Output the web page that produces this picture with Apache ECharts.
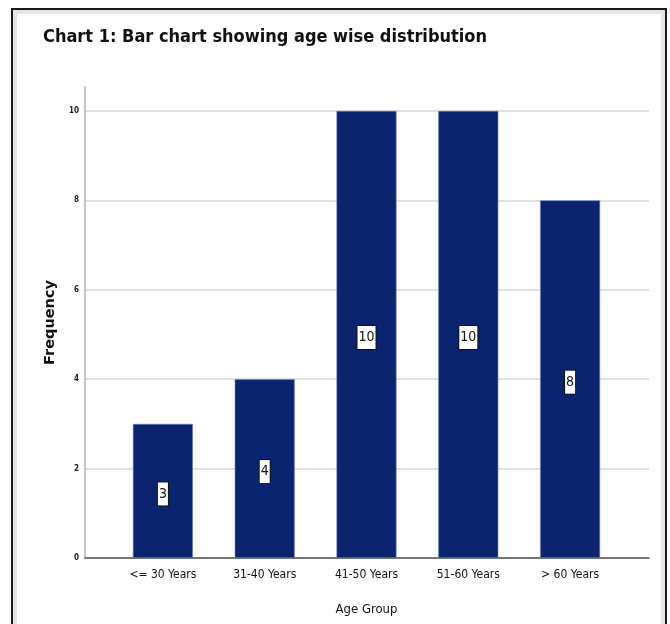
<!DOCTYPE html>
<html>
<head>
<meta charset="utf-8">
<script src="https://cdn.jsdelivr.net/npm/echarts@6/dist/echarts.min.js"></script>
<style>
  html, body { margin: 0; padding: 0; background: #fff; }
  #chart { width: 670px; height: 624px; }
</style>
</head>
<body>
<div id="chart"></div>
<script>
const categories = ['<= 30 Years', '31-40 Years', '41-50 Years', '51-60 Years', '> 60 Years']
const frequency = [3, 4, 10, 10, 8]
const yTicks = [0, 2, 4, 6, 8, 10]

const narrow = '"Liberation Sans Narrow", "DejaVu Sans Condensed", "Arial Narrow", sans-serif'
const barColor = '#0b2470'

const chart = echarts.init(document.getElementById('chart'))

chart.setOption({
  backgroundColor: '#fff',
  animation: false,
  title: {
    text: 'Chart 1: Bar chart showing age wise distribution',
    left: 38,
    top: 23,
    textStyle: { fontFamily: narrow, fontWeight: 'bold', fontSize: 18, color: '#111' }
  },
  graphic: [
    // picture frame with a soft inner shadow
    { type: 'rect', z: -1, shape: { x: 15, y: 12, width: 648, height: 622 },
      style: { fill: 'none', stroke: 'rgba(0,0,0,0.1)', lineWidth: 4 } },
    { type: 'rect', z: -1, shape: { x: 12, y: 9, width: 654, height: 630 },
      style: { fill: 'none', stroke: '#1a1a1a', lineWidth: 2 } }
  ],
  grid: [
    // bars
    { left: 112, right: 49, top: 111, bottom: 66 },
    // gridlines, y labels, x axis line
    { left: 85, right: 21, top: 111, bottom: 66 },
    // y axis line (runs a bit above 10)
    { left: 85, right: 21, top: 87, bottom: 66 }
  ],
  xAxis: [
    {
      gridIndex: 0,
      type: 'category',
      data: categories,
      axisLine: { show: false },
      axisTick: { show: false },
      axisLabel: { margin: 11, fontFamily: narrow, fontSize: 12, color: '#111' },
      name: 'Age Group',
      nameLocation: 'middle',
      nameGap: 45,
      nameTextStyle: { fontFamily: narrow, fontSize: 13, color: '#111' }
    },
    {
      gridIndex: 1,
      type: 'value',
      min: 0,
      max: 1,
      axisLine: { show: true, lineStyle: { color: '#555', width: 1.5 } },
      axisTick: { show: false },
      axisLabel: { show: false },
      splitLine: { show: false }
    },
    {
      gridIndex: 2,
      type: 'value',
      min: 0,
      max: 1,
      axisLine: { show: false },
      axisTick: { show: false },
      axisLabel: { show: false },
      splitLine: { show: false }
    }
  ],
  yAxis: [
    {
      gridIndex: 0,
      type: 'value',
      min: 0,
      max: 10,
      show: false
    },
    {
      gridIndex: 1,
      type: 'value',
      min: yTicks[0],
      max: yTicks[yTicks.length - 1],
      interval: 2,
      axisLine: { show: false },
      axisTick: { show: false },
      axisLabel: { margin: 6, fontFamily: narrow, fontWeight: 'bold', fontSize: 8, color: '#222' },
      splitLine: { lineStyle: { color: '#d4d4d4', width: 1.5 } }
    },
    {
      gridIndex: 2,
      type: 'value',
      min: 0,
      max: 1,
      axisLine: { show: true, lineStyle: { color: '#b0b0b0', width: 1.5 } },
      axisTick: { show: false },
      axisLabel: { show: false },
      splitLine: { show: false },
      name: 'Frequency',
      nameLocation: 'middle',
      nameGap: 27,
      nameTextStyle: { fontFamily: '"DejaVu Sans", sans-serif', fontWeight: 'bold', fontSize: 14.5, color: '#111' }
    }
  ],
  series: [
    {
      type: 'bar',
      xAxisIndex: 0,
      yAxisIndex: 0,
      data: frequency,
      barWidth: 60,
      z: 3,
      itemStyle: { color: barColor, borderColor: '#6f82b8', borderWidth: 0.6 },
      label: {
        show: true,
        position: 'inside',
        offset: [0, 3],
        fontFamily: narrow,
        fontSize: 14,
        color: '#111',
        backgroundColor: '#fff',
        borderColor: '#111',
        borderWidth: 1,
        padding: [5, 1, 4, 1]
      }
    }
  ]
})
</script>
</body>
</html>
